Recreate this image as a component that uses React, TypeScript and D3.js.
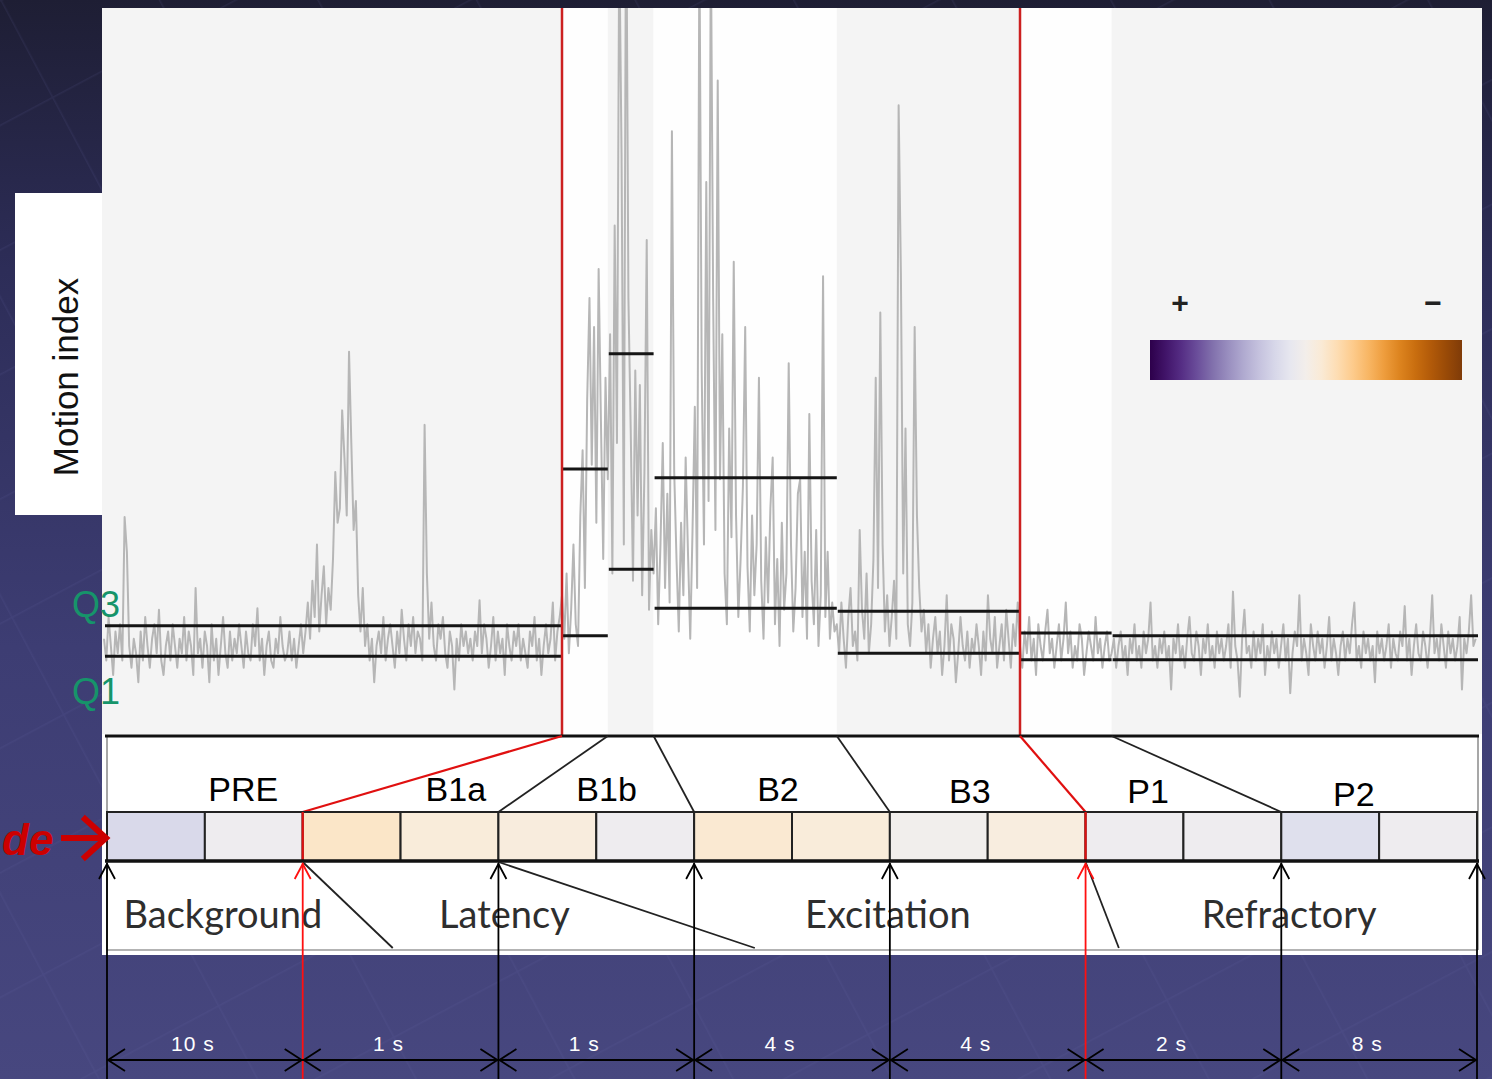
import * as d3 from "d3";

// stages of the protocol and their lengths in seconds
const STAGES = ["PRE", "B1a", "B1b", "B2", "B3", "P1", "P2"];
const STAGE_SECONDS = [10, 1, 1, 4, 4, 2, 8];
const STAGE_Q3 = [1.48, 3.64, 5.23, 3.52, 1.68, 1.38, 1.34];
const STAGE_Q1 = [1.06, 1.34, 2.26, 1.72, 1.1, 1.01, 1.01];
const DURATION_LABELS = ["10 s", "1 s", "1 s", "4 s", "4 s", "2 s", "8 s"];
const RED_BOUNDARIES = [1, 5];

// strip of 14 cells (2 per stage), signed index: + purple, - orange
const CELL_VALUES = [0.19, 0.05, -0.14, -0.08, -0.07, 0.05, -0.11, -0.08, 0.02, -0.06, 0.05, 0.05, 0.15, 0.05];

const PHASES = ["Background", "Latency", "Excitation", "Refractory"];
const PHASE_CELLS = [[0, 2], [2, 6], [6, 10], [10, 14]];
// slanted separators in the phase box: [cell at top, cell at bottom]
const PHASE_SLANTS = [[2, 2.92], [4, 6.62], [10, 10.34]];

// motion index trace, 20 samples per second
const SAMPLE_RATE = 20;
const TRACE_PRE = [
  1.3, 1.0, 1.6, 1.2, 0.8, 1.4, 1.1, 1.5, 1.0, 2.98, 2.5, 1.2, 0.9, 1.3, 1.1, 0.7, 1.4, 1.0, 1.6, 1.2,
  0.9, 1.3, 1.5, 1.1, 1.7, 1.0, 0.8, 1.2, 1.4, 1.0, 1.5, 1.2, 0.9, 1.3, 1.1, 1.6, 1.0, 1.4, 1.2, 0.8,
  2.0, 1.1, 1.3, 0.9, 1.4, 1.2, 0.7, 1.5, 1.0, 1.3, 0.8, 1.2, 1.6, 1.1, 0.9, 1.4, 1.0, 1.3, 1.1, 1.5,
  1.2, 0.9, 1.4, 1.1, 1.0, 1.5, 1.2, 1.72, 1.0, 1.3, 0.8, 1.2, 1.4, 1.0, 0.9, 1.3, 1.1, 1.6, 1.2, 1.0,
  1.1, 1.4, 1.0, 1.3, 0.9, 1.2, 1.5, 1.1, 1.4, 1.8, 1.3, 2.1, 1.6, 2.6, 1.4, 1.9, 2.3, 1.5, 2.0, 1.7,
  2.4, 3.6, 2.9, 3.1, 4.45, 3.8, 3.0, 5.26, 4.0, 2.8, 3.2, 1.9, 1.4, 2.0, 1.2, 1.5, 1.0, 1.3, 0.7, 1.2,
  1.4, 1.1, 1.6, 1.0, 1.3, 1.5, 1.2, 0.9, 1.4, 1.1, 1.7, 1.3, 1.0, 1.5, 1.2, 1.6, 1.1, 1.4, 1.3, 1.0,
  4.25, 2.2, 1.3, 1.8, 1.2, 1.0, 1.5, 1.3, 1.6, 1.1, 0.9, 1.4, 1.2, 0.6, 1.3, 1.0, 1.5, 1.2, 1.4, 1.1,
  1.3, 1.0, 1.4, 1.2, 1.83, 1.1, 1.5, 1.3, 0.9, 1.2, 1.6, 1.0, 1.4, 1.1, 1.3, 0.8, 1.5, 1.2, 1.0, 1.4,
  1.2, 1.5, 1.0, 1.3, 1.1, 0.9, 1.4, 1.2, 1.6, 1.0, 1.3, 0.8, 1.2, 1.5, 1.1, 1.3, 1.8, 1.0, 1.4, 1.6,
];
const TRACE_B1A = [1.9, 1.3, 2.2, 1.1, 1.7, 2.6, 1.5, 1.2, 3.0, 3.9, 2.0, 4.6, 6.0, 3.7, 5.6, 2.9, 6.4, 4.3, 2.4, 4.9];
const TRACE_B1B = [3.5, 5.5, 2.2, 7.0, 4.0, 11.0, 8.0, 2.6, 12.0, 6.0, 4.2, 2.1, 5.0, 3.0, 4.8, 1.9, 3.6, 6.8, 1.7, 2.8];
const TRACE_B2 = [
  2.2, 3.1, 1.5, 2.6, 4.0, 2.0, 3.3, 1.8, 8.3, 3.6, 2.4, 1.4, 2.9, 1.9, 3.8, 2.5, 1.3, 2.8, 4.5, 2.0,
  11.0, 5.0, 2.6, 7.6, 3.2, 11.0, 6.0, 2.8, 9.0, 3.5, 5.5, 2.2, 1.5, 4.2, 2.7, 6.5, 3.0, 1.6, 2.4, 3.4,
  5.6, 2.3, 1.4, 3.0, 1.9, 2.6, 4.9, 2.1, 1.3, 2.7, 1.8, 3.1, 3.8, 1.5, 2.4, 1.2, 2.9, 1.7, 2.2, 5.1,
  2.6, 1.4, 2.0, 3.3, 3.5, 1.6, 2.5, 1.3, 4.4, 2.1, 1.5, 2.8, 1.2, 1.9, 6.3, 1.6, 2.5, 1.3, 1.8, 1.4,
];
const TRACE_B3 = [
  1.5, 1.1, 1.8, 1.3, 0.9, 1.6, 2.0, 1.2, 1.4, 1.0, 2.8, 1.7, 1.3, 2.2, 1.1, 1.5, 2.4, 4.9, 2.0, 5.8,
  2.6, 1.4, 1.9, 1.2, 1.6, 2.1, 1.3, 8.66, 6.3, 2.2, 4.2, 1.5, 1.2, 1.8, 5.6, 3.0, 2.0, 1.4, 1.7, 1.1,
  1.5, 0.9, 1.3, 1.6, 1.1, 1.4, 0.8, 1.2, 1.9, 1.0, 1.5, 1.3, 0.7, 1.1, 1.6, 1.2, 1.0, 1.4, 0.9, 1.3,
  1.1, 1.5, 1.2, 0.8, 1.4, 1.0, 1.9, 1.3, 1.1, 1.6, 0.9, 1.2, 1.5, 1.0, 1.7, 1.3, 0.9, 1.5, 1.2, 1.8,
];
const TRACE_P1 = [
  1.2, 0.9, 1.4, 1.1, 1.6, 1.0, 1.3, 0.8, 1.5, 1.2, 1.0, 1.4, 1.7, 1.1, 1.3, 0.9, 1.2, 1.5, 1.0, 1.3,
  1.8, 1.1, 1.4, 0.9, 1.2, 1.0, 1.5, 1.3, 0.8, 1.1, 1.4, 1.2, 1.0, 1.6, 1.1, 1.3, 0.9, 1.2, 1.4, 1.0,
];
const TRACE_P2 = [
  1.1, 1.3, 0.9, 1.2, 1.4, 1.0, 1.2, 0.8, 1.3, 1.1, 1.5, 1.0, 1.2, 0.9, 1.4, 1.1, 1.3, 1.8, 1.0, 1.2,
  0.9, 1.3, 1.1, 1.4, 1.0, 1.2, 0.6, 1.3, 1.1, 1.5, 1.0, 1.2, 0.9, 1.3, 1.6, 1.1, 1.0, 1.4, 1.2, 0.8,
  1.3, 1.1, 1.5, 1.0, 1.2, 0.9, 1.4, 1.1, 1.3, 1.0, 1.2, 1.5, 0.9, 1.95, 1.2, 1.0, 0.5, 1.3, 1.7, 1.1,
  1.2, 0.9, 1.4, 1.0, 1.3, 1.1, 1.5, 0.8, 1.2, 1.0, 1.4, 1.1, 1.3, 0.9, 1.2, 1.5, 1.0, 1.3, 0.55, 1.1,
  1.4, 1.2, 1.9, 1.0, 1.3, 1.1, 0.8, 1.5, 1.2, 1.0, 1.4, 1.1, 1.3, 0.9, 1.2, 1.6, 1.0, 1.3, 1.1, 0.8,
  1.2, 1.4, 1.0, 1.3, 1.1, 1.5, 1.8, 1.0, 1.2, 0.9, 1.4, 1.1, 1.3, 1.0, 1.2, 0.7, 1.4, 1.1, 1.3, 1.0,
  1.2, 1.5, 0.9, 1.3, 1.1, 1.0, 1.4, 1.2, 1.75, 1.0, 1.3, 0.8, 1.2, 1.5, 1.1, 1.0, 1.4, 1.2, 0.9, 1.3,
  1.9, 1.1, 1.3, 1.0, 1.5, 1.2, 0.9, 1.4, 1.1, 1.3, 1.0, 1.2, 1.6, 0.6, 1.3, 1.1, 1.4, 1.9, 1.2, 1.3,
];

const W = 1492;
const H = 1079;

export default function App() {
  const trace = [...TRACE_PRE, ...TRACE_B1A, ...TRACE_B1B, ...TRACE_B2, ...TRACE_B3, ...TRACE_P1, ...TRACE_P2];
  const bounds = [0, ...d3.cumsum(STAGE_SECONDS)];
  const total = bounds[bounds.length - 1];

  const timeX = d3.scaleLinear().domain([0, total]).range([104, 1478]);
  const yScale = d3.scaleLinear().domain([0, 10]).range([733, 8]);
  const cellX = d3.scaleLinear().domain([0, CELL_VALUES.length]).range([107, 1477]);
  // d3's PuOr runs purple (0) -> orange (1); "+" is purple
  const cellColor = (v: number) => d3.interpolatePuOr((1 - v) / 2);

  const line = d3
    .line<number>()
    .x((_, i) => timeX(i / SAMPLE_RATE))
    .y((d) => yScale(d));

  const boxTop = 736;
  const stripTop = 812;
  const stripBottom = 861;
  const phaseBottom = 950;
  const dimY = 1060;

  const gradStops = d3.range(0, 1.0001, 0.05);
  const stageEdges = d3.range(0, STAGES.length + 1).map((k) => cellX(2 * k));
  const phaseDx = [18, 6, -2, 8];

  return (
    <svg width={W} height={H} style={{ position: "absolute", left: 0, top: 0 }} fontFamily="Arial, 'Liberation Sans', sans-serif">
      <defs>
        <linearGradient id="bg" x1="0" y1="0" x2="0" y2="1">
          <stop offset="0" stopColor="#1e1e34" />
          <stop offset="0.25" stopColor="#2d2d58" />
          <stop offset="0.6" stopColor="#3d3d73" />
          <stop offset="1" stopColor="#47477f" />
        </linearGradient>
        <pattern id="grid" width="140" height="110" patternUnits="userSpaceOnUse" patternTransform="rotate(-28)">
          <path d="M0 0 H140 M0 0 V110" stroke="#7070b0" strokeWidth="3" opacity="0.12" fill="none" />
        </pattern>
        <linearGradient id="cbar" x1="0" y1="0" x2="1" y2="0">
          {gradStops.map((t) => (
            <stop key={t} offset={t} stopColor={d3.interpolatePuOr(t)} />
          ))}
        </linearGradient>
        <clipPath id="traceClip">
          <rect x={102} y={8} width={1380} height={726} />
        </clipPath>
      </defs>

      {/* slide background */}
      <rect width={W} height={H} fill="url(#bg)" />
      <rect width={W} height={H} fill="url(#grid)" />

      {/* figure panel */}
      <rect x={102} y={8} width={1380} height={947} fill="#ffffff" />
      {STAGES.map((s, k) => (
        <rect
          key={s}
          x={k === 0 ? 102 : timeX(bounds[k])}
          y={8}
          width={(k === STAGES.length - 1 ? 1482 : timeX(bounds[k + 1])) - (k === 0 ? 102 : timeX(bounds[k]))}
          height={726}
          fill={k % 2 === 0 ? "#f4f4f4" : "#fefefe"}
        />
      ))}

      {/* y label */}
      <rect x={15} y={193} width={87} height={322} fill="#ffffff" />
      <text transform="translate(78,377) rotate(-90)" textAnchor="middle" fontSize={35} fill="#111">
        Motion index
      </text>

      {/* colour scale legend */}
      <rect x={1150} y={340} width={312} height={40} fill="url(#cbar)" />
      <text x={1180} y={313} textAnchor="middle" fontSize={30} fontWeight="bold" fill="#222">+</text>
      <text x={1433} y={313} textAnchor="middle" fontSize={30} fontWeight="bold" fill="#222">−</text>

      {/* trace */}
      <g clipPath="url(#traceClip)">
        <path d={line(trace) ?? ""} fill="none" stroke="#b6b6b6" strokeWidth={2} strokeLinejoin="round" />
      </g>

      {/* quartile lines per stage */}
      {STAGES.map((s, k) => (
        <g key={s} stroke="#151515" strokeWidth={3}>
          <line x1={timeX(bounds[k]) + 1} x2={timeX(bounds[k + 1])} y1={yScale(STAGE_Q3[k])} y2={yScale(STAGE_Q3[k])} />
          <line x1={timeX(bounds[k]) + 1} x2={timeX(bounds[k + 1])} y1={yScale(STAGE_Q1[k])} y2={yScale(STAGE_Q1[k])} />
        </g>
      ))}

      {/* red onset/offset markers */}
      {RED_BOUNDARIES.map((k) => (
        <line key={k} x1={timeX(bounds[k])} x2={timeX(bounds[k])} y1={8} y2={boxTop} stroke="#cc2020" strokeWidth={2.5} />
      ))}

      <text x={72} y={617} fontSize={36} fill="#16946a">Q3</text>
      <text x={72} y={704} fontSize={36} fill="#16946a">Q1</text>

      {/* stage box */}
      <line x1={107} x2={107} y1={boxTop} y2={phaseBottom} stroke="#8a8a8a" strokeWidth={1.5} />
      <line x1={1478} x2={1478} y1={boxTop} y2={phaseBottom} stroke="#8a8a8a" strokeWidth={1.5} />
      <line x1={105} x2={1479} y1={boxTop} y2={boxTop} stroke="#111" strokeWidth={3} />
      {d3.range(1, STAGES.length).map((k) => {
        const red = RED_BOUNDARIES.includes(k);
        return (
          <line
            key={k}
            x1={timeX(bounds[k])}
            y1={boxTop}
            x2={stageEdges[k]}
            y2={stripTop}
            stroke={red ? "#e01010" : "#222"}
            strokeWidth={red ? 2.2 : 1.8}
          />
        );
      })}
      {STAGES.map((s, k) => {
        const cellMid = (stageEdges[k] + stageEdges[k + 1]) / 2;
        const timeMid = (timeX(bounds[k]) + timeX(bounds[k + 1])) / 2;
        return (
          <text key={s} x={0.7 * cellMid + 0.3 * timeMid} y={801 + (k >= 4 ? 2 : 0) + (k === 6 ? 3 : 0)} textAnchor="middle" fontSize={34} fill="#000">
            {s}
          </text>
        );
      })}

      {/* colour-coded cell strip */}
      {CELL_VALUES.map((v, i) => (
        <rect
          key={i}
          x={cellX(i)}
          y={stripTop}
          width={cellX(i + 1) - cellX(i)}
          height={stripBottom - stripTop}
          fill={cellColor(v)}
          stroke="#222"
          strokeWidth={2}
        />
      ))}
      {RED_BOUNDARIES.map((k) => (
        <line key={k} x1={stageEdges[k]} x2={stageEdges[k]} y1={stripTop} y2={stripBottom} stroke="#e01010" strokeWidth={2.2} />
      ))}
      <line x1={105} x2={1479} y1={stripBottom} y2={stripBottom} stroke="#111" strokeWidth={3.5} />

      {/* phase box */}
      <line x1={107} x2={1478} y1={phaseBottom} y2={phaseBottom} stroke="#9a9a9a" strokeWidth={1.5} />
      {PHASE_SLANTS.map(([a, b], i) => (
        <line key={i} x1={cellX(a)} y1={stripBottom + 1} x2={cellX(b)} y2={phaseBottom - 2} stroke="#222" strokeWidth={1.8} />
      ))}
      {PHASES.map((p, i) => (
        <text
          key={p}
          x={(cellX(PHASE_CELLS[i][0]) + cellX(PHASE_CELLS[i][1])) / 2 + phaseDx[i]}
          y={928}
          textAnchor="middle"
          fontSize={38}
          fontFamily="Lato, 'Open Sans', sans-serif"
          fill="#2e2e2e"
        >
          {p}
        </text>
      ))}

      {/* vertical arrows */}
      {stageEdges.map((x, k) => {
        const red = RED_BOUNDARIES.includes(k);
        const c = red ? "#ff1010" : "#000";
        return (
          <g key={k} stroke={c} strokeWidth={1.8} fill="none">
            <line x1={x} x2={x} y1={stripBottom + 2} y2={H} />
            <path d={`M${x - 8},${stripBottom + 18} L${x},${stripBottom + 3} L${x + 8},${stripBottom + 18}`} />
          </g>
        );
      })}

      {/* duration dimension arrows */}
      {DURATION_LABELS.map((lab, k) => {
        const xa = stageEdges[k];
        const xb = stageEdges[k + 1];
        return (
          <g key={k}>
            <g stroke="#000" strokeWidth={1.8} fill="none">
              <line x1={xa} x2={xb} y1={dimY} y2={dimY} />
              <path d={`M${xa + 18},${dimY - 11} L${xa + 1},${dimY} L${xa + 18},${dimY + 11}`} />
              <path d={`M${xb - 18},${dimY - 11} L${xb - 1},${dimY} L${xb - 18},${dimY + 11}`} />
            </g>
            <text x={(xa + xb) / 2 - 12} y={1051} textAnchor="middle" fontSize={21} fill="#fff" letterSpacing={1}>
              {lab}
            </text>
          </g>
        );
      })}

      {/* slide annotation */}
      <text x={2} y={855} fontSize={44} fontWeight="bold" fontStyle="italic" fill="#cc0000">
        de
      </text>
      <g stroke="#cc0000" strokeWidth={6} fill="none" strokeLinecap="square">
        <line x1={64} x2={104} y1={838} y2={838} />
        <path d="M85,819 L106,838 L85,857" />
      </g>
    </svg>
  );
}
